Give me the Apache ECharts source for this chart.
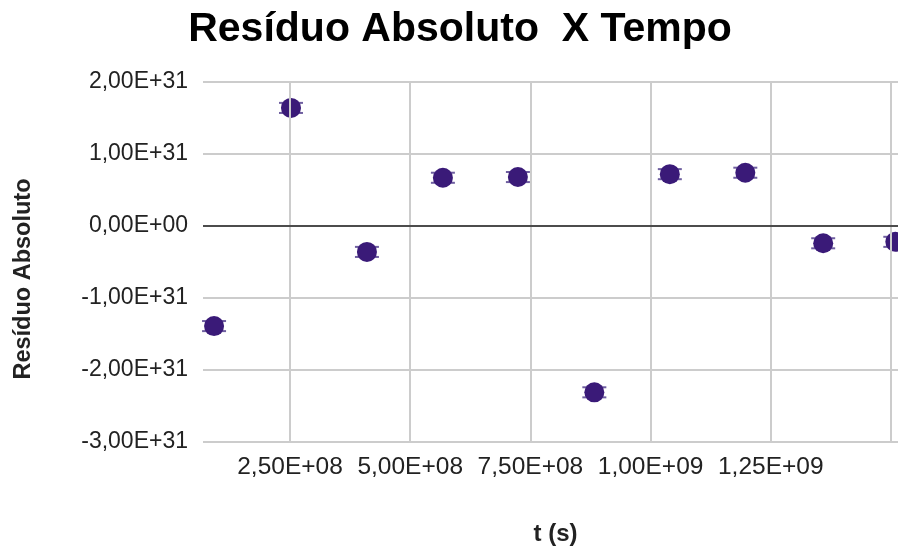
<!DOCTYPE html>
<html>
<head>
<meta charset="utf-8">
<script src="https://cdn.jsdelivr.net/npm/echarts@6/dist/echarts.min.js"></script>
<style>
  html, body { margin: 0; padding: 0; background: #fff; }
  #chart { width: 898px; height: 549px; }
</style>
</head>
<body>
<div id="chart"></div>
<script>
// tempo (s) e resíduo absoluto
const tempos = [9.2e7, 2.52e8, 4.1e8, 5.68e8, 7.24e8, 8.83e8, 1.04e9, 1.197e9, 1.359e9, 1.509e9];
const residuos = [-1.39e31, 1.64e31, -0.36e31, 0.67e31, 0.68e31, -2.31e31, 0.72e31, 0.74e31, -0.24e31, -0.22e31];
const erros = [0.07e31, 0.07e31, 0.07e31, 0.07e31, 0.07e31, 0.07e31, 0.07e31, 0.07e31, 0.07e31, 0.07e31];
const xTicks = [2.5e8, 5e8, 7.5e8, 1e9, 1.25e9];
const xGrid = [2.5e8, 5e8, 7.5e8, 1e9, 1.25e9, 1.5e9];

// 2.5e8 -> "2,50E+08"
function fmtSci(v) {
  if (v === 0) return '0,00E+00';
  let s = Number(v).toExponential(2);
  let [m, e] = s.split('e');
  let sign = e[0] === '-' ? '-' : '+';
  let ex = e.replace(/[+-]/, '');
  if (ex.length < 2) ex = '0' + ex;
  return m.replace('.', ',') + 'E' + sign + ex;
}

const pontos = tempos.map((t, i) => [t, residuos[i]]);
const barras = tempos.map((t, i) => [t, residuos[i] - erros[i], residuos[i] + erros[i]]);

let myChart = echarts.init(document.getElementById('chart'));
myChart.setOption({
  animation: false,
  title: {
    text: 'Resíduo Absoluto  X Tempo',
    left: 455, top: 4, textAlign: 'center',
    textStyle: { fontFamily: 'Liberation Sans', fontWeight: 'bold', fontSize: 41, color: '#000' }
  },
  grid: { left: 203, right: 0, top: 82, bottom: 107, containLabel: false, outerBoundsMode: 'none' },
  xAxis: {
    type: 'value',
    min: 6.9e7, max: 1.5146e9,
    name: 't (s)', nameLocation: 'middle', nameGap: 80,
    nameTextStyle: { fontFamily: 'Liberation Sans', fontWeight: 'bold', fontSize: 24, color: '#222', padding: [0, 0, 0, 10] },
    axisLine: { show: false },
    axisTick: { show: false },
    splitLine: { show: false },
    axisLabel: {
      customValues: xTicks,
      formatter: fmtSci, margin: 13,
      fontFamily: 'Liberation Sans', fontSize: 24.5, color: '#222'
    }
  },
  yAxis: {
    type: 'value',
    min: -3e31, max: 2e31, interval: 1e31,
    name: 'Resíduo Absoluto', nameLocation: 'middle', nameGap: 167, nameRotate: 90,
    nameTextStyle: { fontFamily: 'Liberation Sans', fontWeight: 'bold', fontSize: 23.5, color: '#222', padding: [0, 34, 0, 0] },
    axisLine: { show: false },
    axisTick: { show: false },
    splitLine: { lineStyle: { color: '#cccccc', width: 2 } },
    axisLabel: {
      formatter: fmtSci, margin: 15,
      fontFamily: 'Liberation Sans', fontSize: 23, color: '#222'
    }
  },
  series: [
    {
      type: 'line',
      data: [],
      silent: true,
      markLine: {
        symbol: 'none', silent: true, label: { show: false },
        animation: false,
        data: xGrid.map(v => ({ xAxis: v, lineStyle: { color: '#cccccc', width: 2, type: 'solid' } }))
          .concat([{ yAxis: 0, lineStyle: { color: '#222', width: 1.5, type: 'solid' } }])
      }
    },
    {
      type: 'custom',
      silent: true,
      clip: false,
      data: barras,
      z: 3,
      renderItem: function (params, api) {
        const lo = api.coord([api.value(0), api.value(1)]);
        const hi = api.coord([api.value(0), api.value(2)]);
        const w = 12;
        const st = { stroke: '#6f5fa0', lineWidth: 2 };
        return {
          type: 'group',
          children: [
            { type: 'line', shape: { x1: lo[0] - w, y1: lo[1], x2: lo[0] + w, y2: lo[1] }, style: st },
            { type: 'line', shape: { x1: hi[0] - w, y1: hi[1], x2: hi[0] + w, y2: hi[1] }, style: st },
            { type: 'line', shape: { x1: lo[0], y1: lo[1], x2: hi[0], y2: hi[1] }, style: st }
          ]
        };
      }
    },
    {
      type: 'scatter',
      data: pontos,
      symbolSize: 20,
      clip: false,
      z: 4,
      itemStyle: { color: '#3a1a78', opacity: 1 }
    }
  ]
});
</script>
</body>
</html>
